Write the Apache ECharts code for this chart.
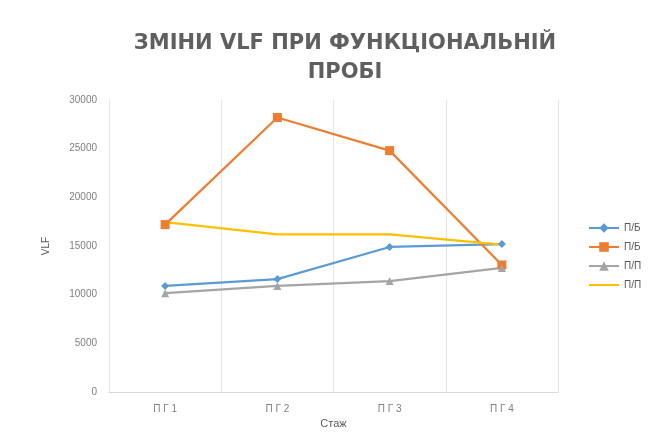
<!DOCTYPE html>
<html>
<head>
<meta charset="utf-8">
<script src="https://cdn.jsdelivr.net/npm/echarts@6/dist/echarts.min.js"></script>
<style>
  html, body { margin: 0; padding: 0; background: #fff; }
  #chart { width: 657px; height: 447px; }
</style>
</head>
<body>
<div id="chart"></div>
<script>
// дані графіка
const categories = ["П Г 1", "П Г 2", "П Г 3", "П Г 4"];
const seriesKeys = ["s1", "s2", "s3", "s4"];
const seriesLabels = ["П/Б", "П/Б", "П/П", "П/П"];
const blueValues = [10900, 11600, 14900, 15200];
const orangeValues = [17200, 28200, 24800, 13050];
const grayValues = [10150, 10900, 11400, 12750];
const yellowValues = [17450, 16200, 16200, 15150];
const yTicks = [0, 30000, 5000]; // min, max, interval

const chart = echarts.init(document.getElementById("chart"));

const lineSeries = function(idx, data, color, symbol, size) {
  return {
    name: seriesKeys[idx],
    type: "line",
    data: data,
    symbol: symbol,
    symbolSize: size,
    itemStyle: { color: color },
    lineStyle: { color: color, width: 2.2 },
    animation: false
  };
};

const option = {
  backgroundColor: "#fff",
  title: {
    text: "ЗМІНИ VLF ПРИ ФУНКЦІОНАЛЬНІЙ\nПРОБІ",
    left: 340,
    textAlign: "center",
    top: 24,
    textStyle: {
      fontFamily: "DejaVu Sans",
      fontSize: 21,
      fontWeight: "bold",
      color: "#5f5f5f",
      lineHeight: 29
    }
  },
  legend: {
    orient: "vertical",
    left: 583,
    top: 218,
    itemGap: 9,
    itemWidth: 30,
    itemHeight: 12,
    textStyle: { fontFamily: "Liberation Sans", fontSize: 10, color: "#595959" },
    formatter: function(name) { return seriesLabels[seriesKeys.indexOf(name)]; },
    data: [
      { name: seriesKeys[0] },
      { name: seriesKeys[1] },
      { name: seriesKeys[2] },
      { name: seriesKeys[3], itemStyle: { opacity: 0 } }
    ]
  },
  grid: { left: 109, right: 99, top: 100, bottom: 55 },
  xAxis: {
    type: "category",
    data: categories,
    boundaryGap: true,
    name: "Стаж",
    nameLocation: "middle",
    nameGap: 24,
    nameTextStyle: { fontFamily: "Liberation Sans", fontSize: 11, color: "#595959" },
    axisLine: { lineStyle: { color: "#d9d9d9" } },
    axisTick: { show: false },
    axisLabel: { fontFamily: "Liberation Sans", fontSize: 10, color: "#7f7f7f", margin: 12 },
    splitLine: { show: true, lineStyle: { color: "#e6e6e6" } }
  },
  yAxis: {
    type: "value",
    min: yTicks[0],
    max: yTicks[1],
    interval: yTicks[2],
    name: "VLF",
    nameLocation: "middle",
    nameGap: 58,
    nameTextStyle: { fontFamily: "Liberation Sans", fontSize: 10, color: "#595959" },
    axisLine: { show: true, lineStyle: { color: "#e6e6e6" } },
    axisTick: { show: false },
    axisLabel: {
      fontFamily: "Liberation Sans", fontSize: 10, color: "#7f7f7f", margin: 12,
      formatter: function(v) { return String(v); }
    },
    splitLine: { show: false }
  },
  series: [
    lineSeries(0, blueValues, "#5b9bd5", "diamond", 8),
    lineSeries(1, orangeValues, "#ed7d31", "rect", 9),
    lineSeries(2, grayValues, "#a5a5a5", "triangle", 8),
    lineSeries(3, yellowValues, "#ffc000", "none", 0)
  ]
};
chart.setOption(option);
</script>
</body>
</html>
